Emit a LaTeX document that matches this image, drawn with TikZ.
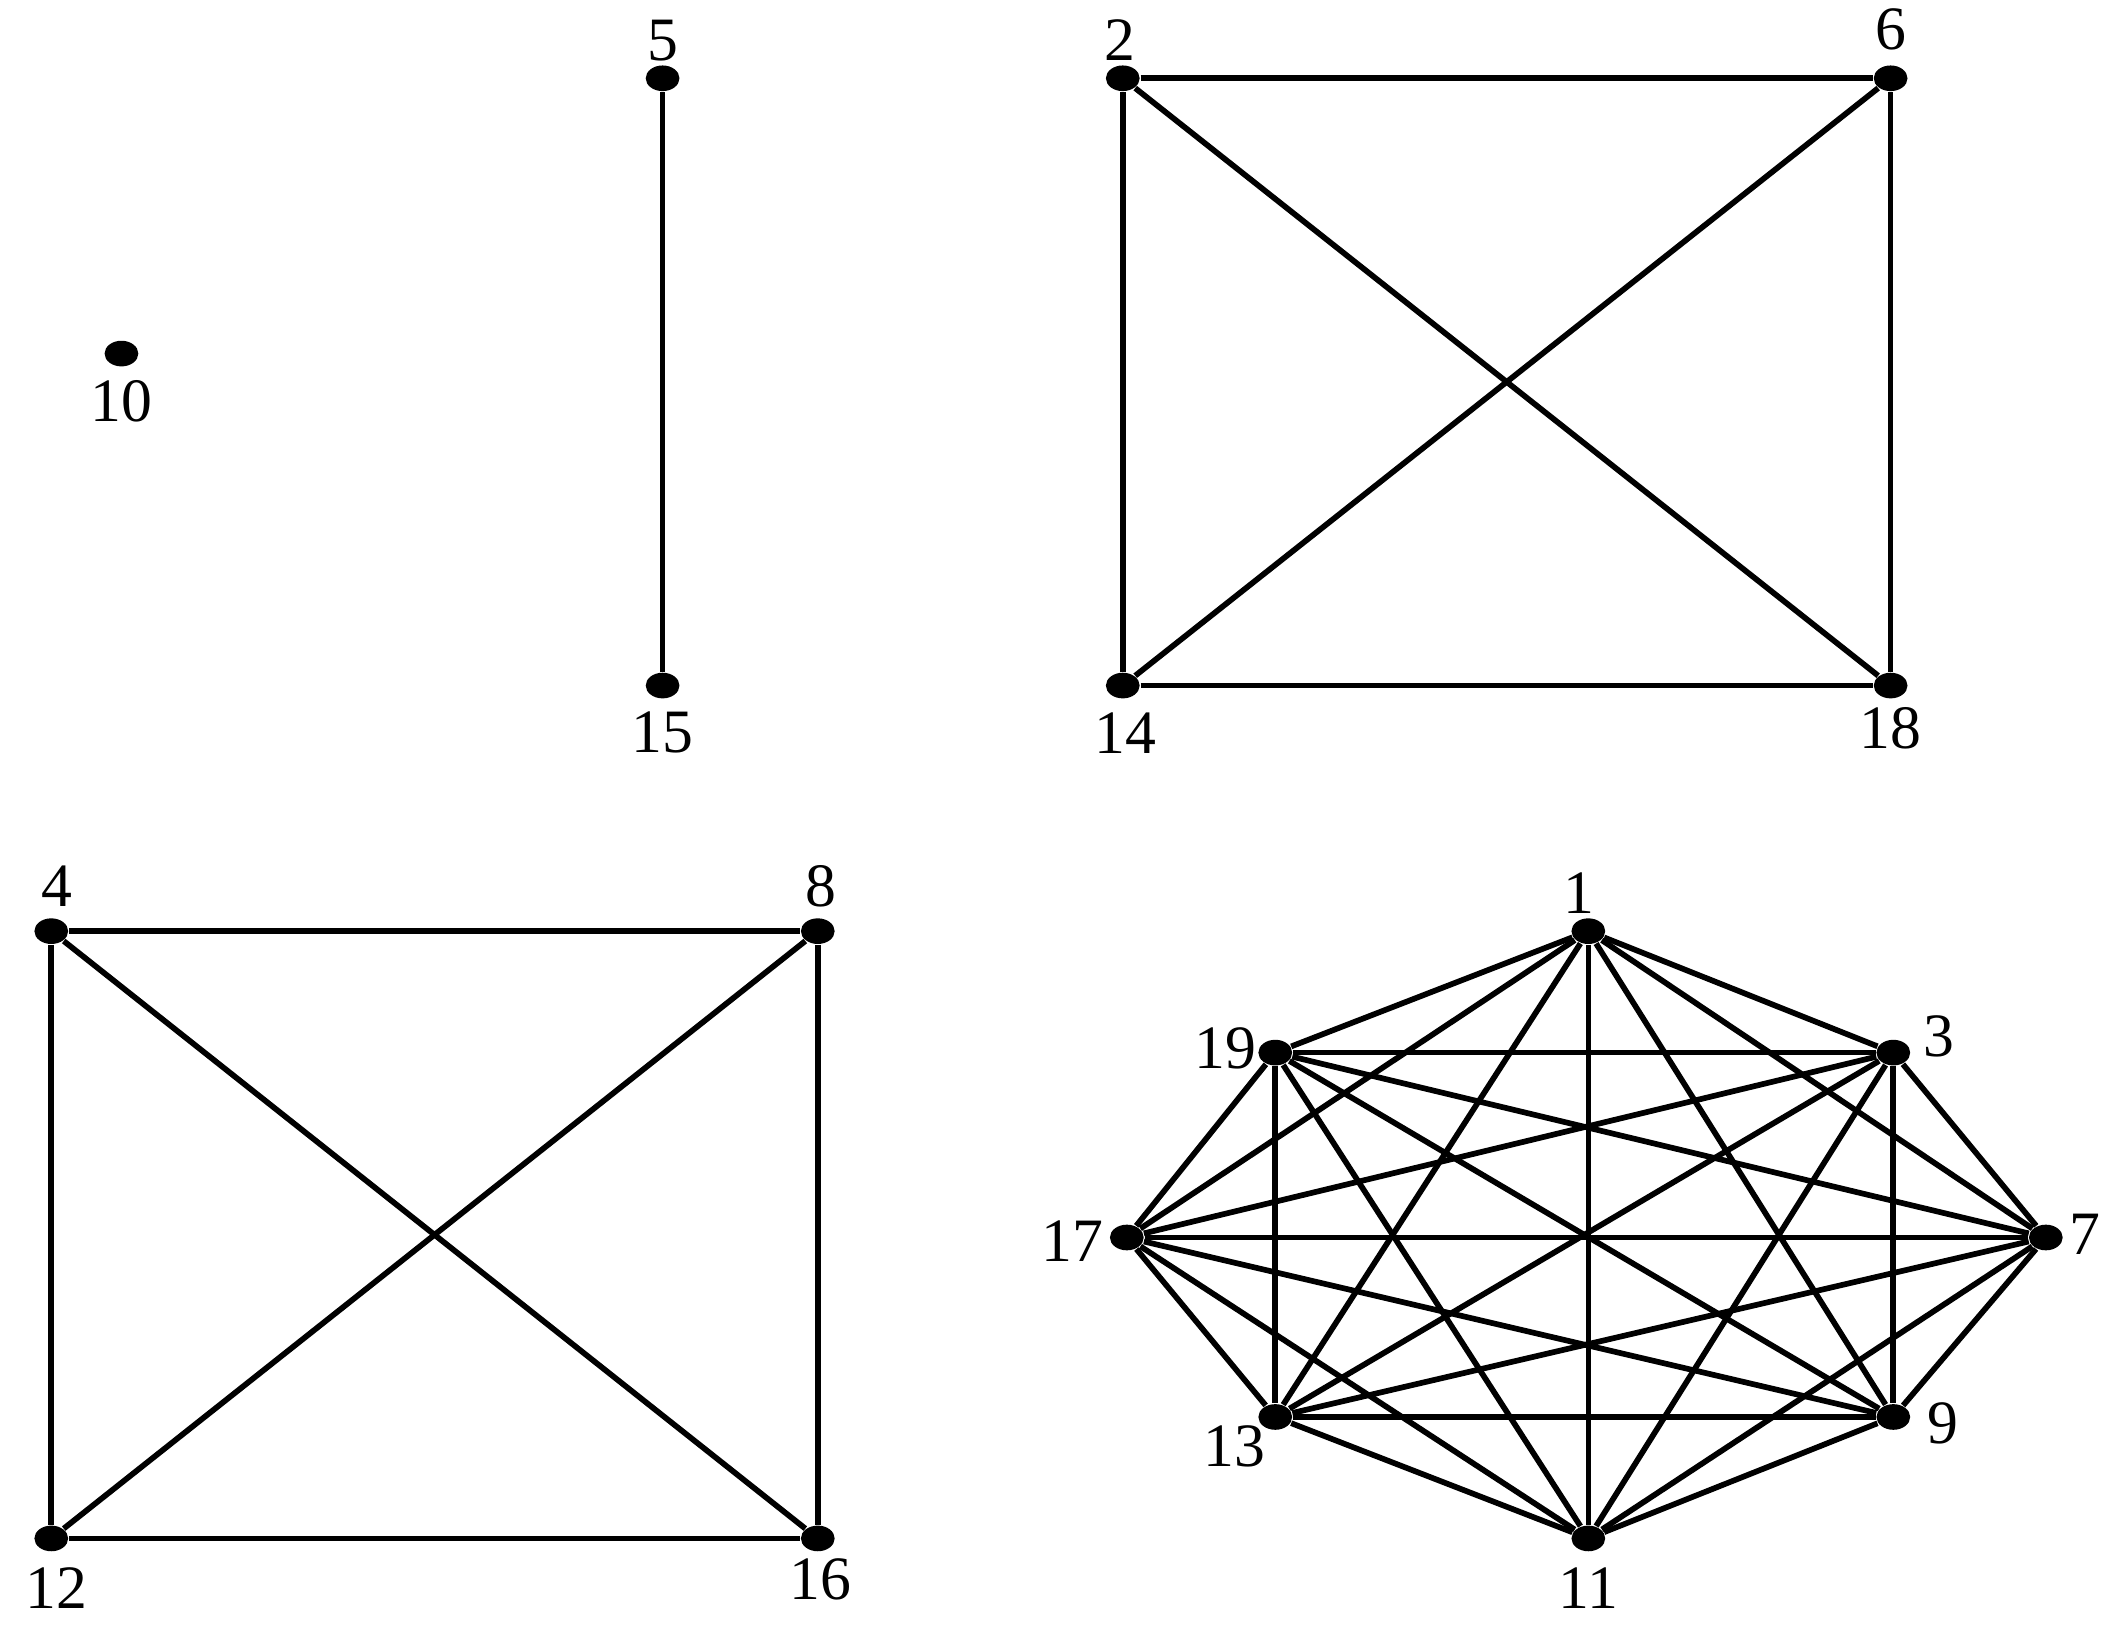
\documentclass[tikz,border=0pt]{standalone}
\usepackage{fontspec}
\setmainfont{Liberation Serif}
\usetikzlibrary{shapes.geometric}
\begin{document}
\begin{tikzpicture}[x=0.01cm,y=-0.01cm,
  vtx/.style={ellipse,fill=black,minimum width=0.25cm,minimum height=0.19cm,inner sep=0pt},
  lbl/.style={font=\fontsize{13}{13}\selectfont,inner sep=0pt},
  edge/.style={line width=1.2pt}]
\useasboundingbox (0,0) rectangle (1568,1211);
\foreach \n/\x/\y/\lx/\ly in {10/90/262/90/297, 5/491/58/491/30, 15/491/508/491/543,
  2/832/58/830/30, 6/1401/58/1401/22, 14/832/508/834/543, 18/1401/508/1401/540,
  4/38/690/42/657, 8/606/690/608/657, 12/38/1140/42/1177, 16/606/1140/608/1170,
  1/1177/690/1170/662, 3/1403/780/1437/768, 7/1516/917/1545/915, 9/1403/1050/1440/1055,
  11/1177/1140/1177/1177, 13/945/1050/915/1072, 17/835/917/795/920, 19/945/780/908/777}
{ \node[vtx] (v\n) at (\x,\y) {}; \node[lbl] (l\n) at (\lx,\ly) {\n}; }
\draw[edge] (v5)--(v15);
\foreach \a/\b in {2/6,2/14,2/18,6/14,6/18,14/18,4/8,4/12,4/16,8/12,8/16,12/16}
  \draw[edge] (v\a)--(v\b);
\foreach \a/\b in {1/3,1/7,1/9,1/11,1/13,1/17,1/19,3/7,3/9,3/11,3/13,3/17,3/19,
  7/9,7/11,7/13,7/17,7/19,9/11,9/13,9/17,9/19,11/13,11/17,11/19,13/17,13/19,17/19}
  \draw[edge] (v\a)--(v\b);
\end{tikzpicture}
\end{document}
